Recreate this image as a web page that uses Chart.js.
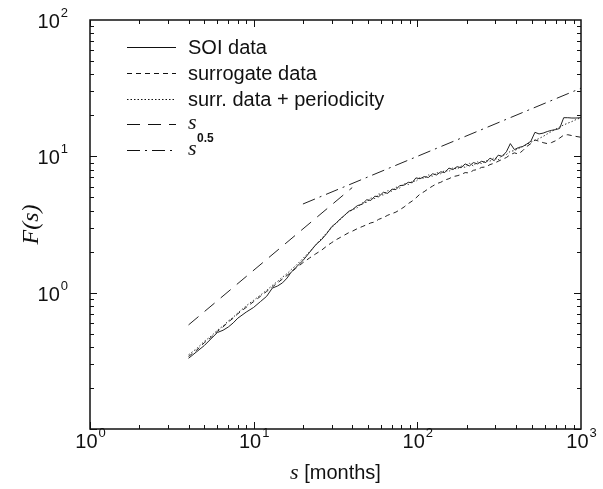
<!DOCTYPE html>
<html>
<head>
<meta charset="utf-8">
<script src="https://cdn.jsdelivr.net/npm/chart.js@4.4.0/dist/chart.umd.min.js"></script>
<style>
html, body { margin: 0; padding: 0; background: #fff; }
</style>
</head>
<body>
<canvas id="chart" width="603" height="489"></canvas>
<script>
// window sizes s (months)
const sValues = [4, 4.5, 5, 5.5, 6, 6.5, 7, 7.5, 8, 9, 10, 11, 12, 13, 14, 15, 16, 17, 18, 20,
    22, 24, 26, 28, 30, 32, 34, 36, 38, 40, 43, 46, 49, 52, 55, 58, 62, 66, 70, 74,
    78, 83, 88, 93, 98, 104, 110, 117, 124, 131, 139, 147, 156, 165, 175, 185, 196, 208, 220, 233,
    247, 262, 278, 295, 312, 330, 350, 370, 392, 415, 440, 466, 494, 523, 554, 587, 622, 659, 698, 740,
    784, 830, 880, 932, 1000];

const soiF = [0.33, 0.37, 0.41, 0.46, 0.51, 0.53, 0.56, 0.60, 0.65, 0.72, 0.78, 0.86, 0.94, 1.08, 1.12, 1.18, 1.28, 1.42, 1.52, 1.72,
    1.98, 2.25, 2.45, 2.72, 3.05, 3.25, 3.5, 3.7, 3.95, 4.05, 4.35, 4.45, 4.8, 4.75, 5.1, 5.05, 5.45, 5.35, 5.75, 5.7,
    6.1, 6.15, 6.45, 6.4, 6.95, 6.85, 7.1, 7.0, 7.45, 7.3, 7.7, 7.6, 8.2, 8.0, 8.4, 8.25, 8.8, 8.5, 9.0, 8.8,
    9.2, 9.0, 9.7, 9.3, 10.2, 10.0, 10.8, 12.4, 11.2, 11.6, 11.8, 12.3, 12.9, 15.0, 14.6, 14.8, 15.2, 15.5, 15.7, 16.0,
    19.2, 19.2, 19.1, 19.1, 19.2];

const surrogateF = [0.34, 0.38, 0.43, 0.47, 0.52, 0.56, 0.61, 0.65, 0.70, 0.78, 0.86, 0.94, 1.02, 1.10, 1.18, 1.26, 1.34, 1.42, 1.50, 1.66,
    1.80, 1.93, 2.05, 2.20, 2.33, 2.45, 2.55, 2.65, 2.75, 2.82, 2.95, 3.05, 3.15, 3.25, 3.3, 3.45, 3.55, 3.7, 3.8, 3.9,
    4.05, 4.25, 4.5, 4.7, 4.95, 5.3, 5.5, 5.8, 6.05, 6.3, 6.45, 6.7, 6.85, 7.1, 7.2, 7.35, 7.6, 7.55, 7.9, 8.0,
    8.3, 8.35, 8.7, 8.9, 9.2, 9.5, 9.8, 10.3, 10.6, 10.4, 11.0, 11.8, 12.4, 13.2, 12.9, 12.6, 12.4, 12.6, 13.0, 13.6,
    14.3, 14.4, 14.2, 14.0, 13.8];

const periodicF = [0.35, 0.39, 0.44, 0.48, 0.53, 0.57, 0.62, 0.66, 0.71, 0.80, 0.88, 0.96, 1.04, 1.13, 1.21, 1.30, 1.38, 1.48, 1.57, 1.78,
    2.0, 2.25, 2.5, 2.75, 3.0, 3.25, 3.45, 3.7, 3.9, 4.05, 4.2, 4.55, 4.6, 4.95, 4.9, 5.3, 5.2, 5.6, 5.55, 5.95,
    5.85, 6.3, 6.2, 6.6, 6.55, 7.0, 6.9, 7.3, 7.15, 7.6, 7.45, 7.9, 7.75, 8.25, 8.05, 8.5, 8.3, 8.9, 8.5, 9.1,
    8.85, 9.3, 9.2, 9.8, 9.4, 10.2, 10.3, 10.9, 11.0, 11.4, 11.8, 12.2, 12.7, 13.1, 13.5, 14.0, 14.6, 15.2, 15.8, 16.4,
    17.0, 17.5, 18.0, 18.6, 19.2];

// reference power laws
const linearS = [4, 40];
const linearF = [0.58, 5.9];
const sqrtS = [20, 1000];
const sqrtF = [4.47, 31.6];

const xTickExps = [0, 1, 2, 3];
const yTickExps = [0, 1, 2];

const seriesNames = ["SOI data", "surrogate data", "surr. data + periodicity", "s", "s"];
const seriesDash = [[], [5, 4], [1.5, 2], [13, 8], [13, 5, 2, 5]];

const pts = (xs, ys) => xs.map((x, i) => ({ x: x, y: ys[i] }));

const makeSet = (label, data, dash, color) => ({
    label: label,
    data: data,
    borderColor: color,
    borderWidth: 1,
    borderDash: dash,
    pointRadius: 0,
    fill: false,
    tension: 0
});

const axesPlugin = {
    id: "axesPlugin",
    afterDraw(chart) {
        const ctx = chart.ctx;
        const a = chart.chartArea;
        const xs = chart.scales.x;
        const ys = chart.scales.y;
        ctx.save();
        ctx.strokeStyle = "#111";
        ctx.fillStyle = "#111";

        // ticks, all four sides, pointing inward
        ctx.lineWidth = 1;
        ctx.beginPath();
        for (let e = 0; e < 3; e++) {
            for (let m = 1; m <= 9; m++) {
                const v = m * Math.pow(10, e);
                const px = Math.round(xs.getPixelForValue(v)) + 0.5;
                const len = m === 1 ? 7 : 4;
                ctx.moveTo(px, a.bottom); ctx.lineTo(px, a.bottom - len);
                ctx.moveTo(px, a.top); ctx.lineTo(px, a.top + len);
            }
        }
        for (let e = -1; e < 2; e++) {
            for (let m = 1; m <= 9; m++) {
                const v = m * Math.pow(10, e);
                const py = Math.round(ys.getPixelForValue(v)) + 0.5;
                const len = m === 1 ? 7 : 4;
                ctx.moveTo(a.left, py); ctx.lineTo(a.left + len, py);
                ctx.moveTo(a.right, py); ctx.lineTo(a.right - len, py);
            }
        }
        ctx.stroke();

        // frame
        ctx.lineWidth = 1.5;
        ctx.strokeRect(a.left, a.top, a.right - a.left, a.bottom - a.top);

        const big = '20px "Liberation Sans", Arial, sans-serif';
        const small = '13px "Liberation Sans", Arial, sans-serif';

        // x tick labels
        ctx.textBaseline = "alphabetic";
        xTickExps.forEach(e => {
            const px = xs.getPixelForValue(Math.pow(10, e));
            ctx.font = big;
            const w1 = ctx.measureText("10").width;
            ctx.font = small;
            const w2 = ctx.measureText(String(e)).width;
            const x0 = px - (w1 + w2) / 2;
            ctx.font = big;
            ctx.textAlign = "left";
            ctx.fillText("10", x0, a.bottom + 19);
            ctx.font = small;
            ctx.fillText(String(e), x0 + w1 + 1, a.bottom + 8);
        });

        // y tick labels
        yTickExps.forEach(e => {
            const py = ys.getPixelForValue(Math.pow(10, e));
            ctx.font = small;
            const w2 = ctx.measureText(String(e)).width;
            ctx.font = big;
            const w1 = ctx.measureText("10").width;
            const x0 = a.left - 23 - w1 - w2;
            ctx.textAlign = "left";
            ctx.fillText("10", x0, py + 8);
            ctx.font = small;
            ctx.fillText(String(e), x0 + w1 + 1, py - 3);
        });

        // x axis title
        ctx.font = 'italic 22px "Liberation Serif", serif';
        const ws = ctx.measureText("s").width;
        ctx.font = big;
        const wm = ctx.measureText(" [months]").width;
        const cx = (a.left + a.right) / 2 - (ws + wm) / 2;
        ctx.font = 'italic 22px "Liberation Serif", serif';
        ctx.fillText("s", cx, a.bottom + 50);
        ctx.font = big;
        ctx.fillText(" [months]", cx + ws, a.bottom + 50);

        // y axis title
        ctx.save();
        ctx.translate(38, (a.top + a.bottom) / 2);
        ctx.rotate(-Math.PI / 2);
        ctx.font = 'italic 24px "Liberation Serif", serif';
        ctx.textAlign = "center";
        ctx.fillText("F(s)", 0, 0);
        ctx.restore();

        // legend
        const rows = [47, 73, 99, 124, 150];
        rows.forEach((ry, i) => {
            ctx.lineWidth = 1;
            ctx.setLineDash(seriesDash[i]);
            ctx.beginPath();
            ctx.moveTo(127, ry + 0.5);
            ctx.lineTo(176, ry + 0.5);
            ctx.stroke();
            ctx.setLineDash([]);
            ctx.textAlign = "left";
            if (i < 3) {
                ctx.font = big;
                ctx.fillText(seriesNames[i], 188, ry + 7);
            } else {
                ctx.font = 'italic 22px "Liberation Serif", serif';
                ctx.fillText(seriesNames[i], 188, ry + 5);
                if (i === 4) {
                    ctx.font = 'bold 12px "Liberation Sans", Arial, sans-serif';
                    ctx.fillText("0.5", 197, ry - 8);
                }
            }
        });
        ctx.restore();
    }
};

new Chart(document.getElementById("chart"), {
    type: "line",
    data: {
        datasets: [
            makeSet(seriesNames[0], pts(sValues, soiF), seriesDash[0], "#222"),
            makeSet(seriesNames[1], pts(sValues, surrogateF), seriesDash[1], "#222"),
            makeSet(seriesNames[2], pts(sValues, periodicF), seriesDash[2], "#333"),
            makeSet(seriesNames[3], pts(linearS, linearF), seriesDash[3], "#222"),
            makeSet(seriesNames[4], pts(sqrtS, sqrtF), seriesDash[4], "#222")
        ]
    },
    options: {
        responsive: false,
        animation: false,
        devicePixelRatio: 1,
        layout: { padding: { left: 90, top: 20, right: 22, bottom: 60 } },
        plugins: { legend: { display: false }, tooltip: { enabled: false } },
        scales: {
            x: { type: "logarithmic", min: 1, max: 1000, display: false },
            y: { type: "logarithmic", min: 0.1, max: 100, display: false }
        }
    },
    plugins: [axesPlugin]
});
</script>
</body>
</html>
